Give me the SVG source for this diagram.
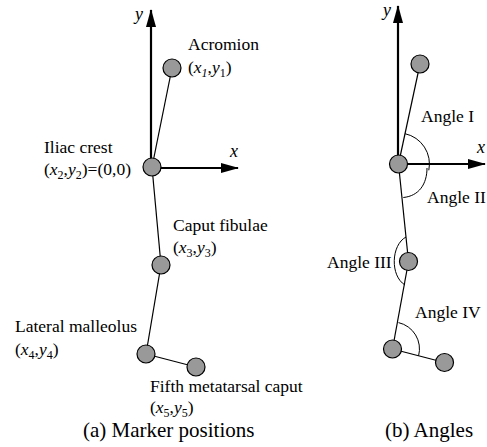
<svg xmlns="http://www.w3.org/2000/svg" width="487" height="447" viewBox="0 0 487 447">
<style>
  text { font-family: "Liberation Serif", "Times New Roman", serif; fill: #000; }
  .lbl { font-size: 17.5px; }
  .cap { font-size: 21px; }
  .ax { font-size: 18px; font-style: italic; }
  .it { font-style: italic; }
  .sub { font-size: 12px; }
  .bone { stroke: #000; stroke-width: 1.2; fill: none; }
  .axis { stroke: #000; stroke-width: 2.2; fill: none; }
  .arc { stroke: #000; stroke-width: 1; fill: none; }
  .mk { fill: #999999; stroke: #000; stroke-width: 1.2; }
</style>
<defs>
  <marker id="ah" viewBox="0 0 18 10" refX="17" refY="5" markerWidth="18" markerHeight="10" markerUnits="userSpaceOnUse" orient="auto">
    <path d="M0,0 L18,5 L0,10 z" fill="#000"/>
  </marker>
</defs>

<rect width="487" height="447" fill="#fff"/>

<!-- (a) axes -->
<g id="axes-a">
  <line class="axis" x1="151" y1="167" x2="151" y2="10" marker-end="url(#ah)"/>
  <line class="axis" x1="152" y1="168" x2="238" y2="168" marker-end="url(#ah)"/>
  <text class="ax" x="135" y="19.5">y</text>
  <text class="ax" x="230" y="156.5">x</text>
</g>

<!-- (b) axes -->
<g id="axes-b">
  <line class="axis" x1="398" y1="164" x2="398" y2="6" marker-end="url(#ah)"/>
  <line class="axis" x1="399" y1="164" x2="485" y2="164" marker-end="url(#ah)"/>
  <text class="ax" x="383" y="16">y</text>
  <text class="ax" x="477" y="153">x</text>
</g>

<g id="connectors">
  <line class="bone" x1="152" y1="167" x2="172" y2="68"/>
  <line class="bone" x1="152" y1="167" x2="161" y2="265"/>
  <line class="bone" x1="161" y1="265" x2="146" y2="354"/>
  <line class="bone" x1="146" y1="354" x2="196" y2="367"/>
  <line class="bone" x1="398.5" y1="164" x2="420" y2="64"/>
  <line class="bone" x1="398.5" y1="164" x2="408.5" y2="261.5"/>
  <line class="bone" x1="408.5" y1="261.5" x2="392.5" y2="349"/>
  <line class="bone" x1="392.5" y1="349" x2="444.5" y2="362.5"/>
</g>

<!-- (a) nodes -->
<g id="acromion-a">
  <circle class="mk" cx="172" cy="68" r="9"/>
  <text class="lbl" x="188" y="50">Acromion</text>
  <text class="lbl" x="188" y="73">(<tspan class="it">x</tspan><tspan class="sub it" dy="4">1</tspan><tspan dy="-4">,</tspan><tspan class="it">y</tspan><tspan class="sub" dy="4">1</tspan><tspan dy="-4">)</tspan></text>
</g>
<g id="iliac-a">
  <circle class="mk" cx="152" cy="167" r="9"/>
  <text class="lbl" x="44" y="153">Iliac crest</text>
  <text class="lbl" x="44" y="175">(<tspan class="it">x</tspan><tspan class="sub" dy="4">2</tspan><tspan dy="-4">,</tspan><tspan class="it">y</tspan><tspan class="sub" dy="4">2</tspan><tspan dy="-4">)=(0,0)</tspan></text>
</g>
<g id="caput-fibulae-a">
  <circle class="mk" cx="161" cy="265" r="9"/>
  <text class="lbl" x="173" y="231">Caput fibulae</text>
  <text class="lbl" x="173" y="253">(<tspan class="it">x</tspan><tspan class="sub" dy="4">3</tspan><tspan dy="-4">,</tspan><tspan class="it">y</tspan><tspan class="sub" dy="4">3</tspan><tspan dy="-4">)</tspan></text>
</g>
<g id="malleolus-a">
  <circle class="mk" cx="146" cy="354" r="9"/>
  <text class="lbl" x="15" y="332">Lateral malleolus</text>
  <text class="lbl" x="15" y="355">(<tspan class="it">x</tspan><tspan class="sub" dy="4">4</tspan><tspan dy="-4">,</tspan><tspan class="it">y</tspan><tspan class="sub" dy="4">4</tspan><tspan dy="-4">)</tspan></text>
</g>
<g id="metatarsal-a">
  <circle class="mk" cx="196" cy="367" r="9"/>
  <text class="lbl" x="150" y="392">Fifth metatarsal caput</text>
  <text class="lbl" x="150" y="413">(<tspan class="it">x</tspan><tspan class="sub" dy="3.5">5</tspan><tspan dy="-3.5">,</tspan><tspan class="it">y</tspan><tspan class="sub" dy="3.5">5</tspan><tspan dy="-3.5">)</tspan></text>
</g>

<!-- (b) angle arcs -->
<g id="angles">
  <path class="arc" d="M405,133.7 A31,31 0 0 1 428.8,170.3"/>
  <path class="arc" d="M427,168 C427,184 419,196 403.3,197.5"/>
  <path class="arc" d="M406,237 C391,245 390,276 405,285"/>
  <path class="arc" d="M398.5,322.6 A27,27 0 0 1 418.6,355.8"/>
  <text class="lbl" x="421" y="122">Angle I</text>
  <text class="lbl" x="427" y="203">Angle II</text>
  <text class="lbl" x="327" y="268">Angle III</text>
  <text class="lbl" x="415" y="318">Angle IV</text>
</g>

<!-- (b) nodes -->
<g id="acromion-b"><circle class="mk" cx="420" cy="64" r="9"/></g>
<g id="iliac-b"><circle class="mk" cx="398.5" cy="164" r="9"/></g>
<g id="caput-fibulae-b"><circle class="mk" cx="408.5" cy="261.5" r="9"/></g>
<g id="malleolus-b"><circle class="mk" cx="392.5" cy="349" r="9"/></g>
<g id="metatarsal-b"><circle class="mk" cx="444.5" cy="362.5" r="9"/></g>

<g id="captions">
  <text class="cap" x="83" y="437">(a) Marker positions</text>
  <text class="cap" x="385" y="437">(b) Angles</text>
</g>
</svg>
